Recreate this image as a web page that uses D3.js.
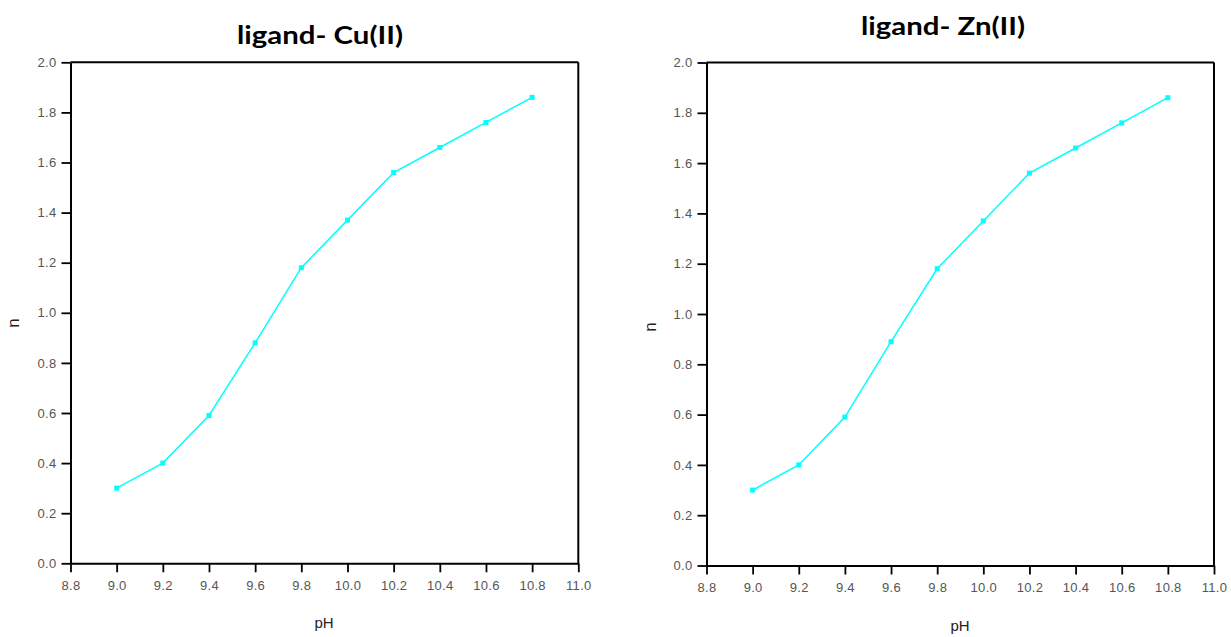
<!DOCTYPE html>
<html><head><meta charset="utf-8">
<script src="https://cdn.jsdelivr.net/npm/d3@7/dist/d3.min.js"></script>
<style>html,body{margin:0;padding:0;background:#fff;}svg{display:block;}</style>
</head><body>
<svg id="c" width="1231" height="637"></svg>
<script>
const pH = [9.0, 9.2, 9.4, 9.6, 9.8, 10.0, 10.2, 10.4, 10.6, 10.8];
const nCu = [0.30, 0.40, 0.59, 0.88, 1.18, 1.37, 1.56, 1.66, 1.76, 1.86];
const nZn = [0.30, 0.40, 0.59, 0.89, 1.18, 1.37, 1.56, 1.66, 1.76, 1.86];
const titles = ["ligand- Cu(II)", "ligand- Zn(II)"];
const xTicks = [8.8, 9.0, 9.2, 9.4, 9.6, 9.8, 10.0, 10.2, 10.4, 10.6, 10.8, 11.0];
const yTicks = [0.0, 0.2, 0.4, 0.6, 0.8, 1.0, 1.2, 1.4, 1.6, 1.8, 2.0];
const xLabel = "pH", yLabel = "n";

const panels = [
  {x0:70.5, x1:578.3, y0:62.3, y1:563.3, title:titles[0], tx:320, ty:44, tw:166, vals:nCu, xly:628, xlx:324, nly:323, nlx:19},
  {x0:706.5, x1:1214, y0:62.5, y1:565.5, title:titles[1], tx:943, ty:35, tw:164, vals:nZn, xly:631, xlx:960, nly:327, nlx:656}
];

const svg = d3.select("#c");
panels.forEach(p => {
  const x = d3.scaleLinear().domain([8.8, 11.0]).range([p.x0, p.x1]);
  const y = d3.scaleLinear().domain([0, 2.0]).range([p.y1, p.y0]);
  const g = svg.append("g");
  g.append("line").attr("x1", p.x0).attr("x2", p.x1).attr("y1", p.y0).attr("y2", p.y0).attr("stroke", "#000").attr("stroke-width", 2);
  g.append("line").attr("x1", p.x1).attr("x2", p.x1).attr("y1", p.y0).attr("y2", p.y1).attr("stroke", "#000").attr("stroke-width", 2);
  const ax = g.append("g").attr("transform", `translate(0,${p.y1})`)
    .call(d3.axisBottom(x).tickValues(xTicks).tickFormat(d3.format(".1f")).tickSize(9).tickPadding(8).tickSizeOuter(0));
  const ay = g.append("g").attr("transform", `translate(${p.x0},0)`)
    .call(d3.axisLeft(y).tickValues(yTicks).tickFormat(d3.format(".1f")).tickSize(9).tickPadding(5).tickSizeOuter(0));
  [ax, ay].forEach(a => {
    a.select(".domain").attr("stroke", "#000").attr("stroke-width", 2);
    a.selectAll(".tick line").attr("stroke", "#000").attr("stroke-width", 1.8);
    a.selectAll(".tick text").attr("fill", "#555").style("font-family", "Liberation Sans, Arial, sans-serif").style("font-size", "13px").style("letter-spacing", "0.3px");
  });
  g.append("text").attr("x", p.tx).attr("y", p.ty).attr("text-anchor", "middle")
    .attr("textLength", p.tw).attr("lengthAdjust", "spacingAndGlyphs")
    .style("font-family", "Lato, 'Open Sans', sans-serif").style("font-weight", "bold").style("font-size", "24px").attr("fill", "#000")
    .text(p.title);
  g.append("text").attr("x", p.xlx).attr("y", p.xly).attr("text-anchor", "middle")
    .style("font-family", "Liberation Sans, Arial, sans-serif").style("font-size", "15px").attr("fill", "#222").text(xLabel);
  g.append("text").attr("transform", `translate(${p.nlx},${p.nly}) rotate(-90)`).attr("text-anchor", "middle")
    .style("font-family", "Liberation Sans, Arial, sans-serif").style("font-size", "17px").attr("fill", "#222").text(yLabel);
  const data = pH.map((v, i) => [v, p.vals[i]]);
  g.append("path").datum(data)
    .attr("d", d3.line().x(d => x(d[0])).y(d => y(d[1])))
    .attr("fill", "none").attr("stroke", "#00FFFF").attr("stroke-width", 1.5);
  g.selectAll("rect.m").data(data).join("rect").attr("class", "m")
    .attr("x", d => x(d[0]) - 2.5).attr("y", d => y(d[1]) - 2.5).attr("width", 5).attr("height", 5)
    .attr("fill", "#00FFFF");
});
</script>
</body></html>
